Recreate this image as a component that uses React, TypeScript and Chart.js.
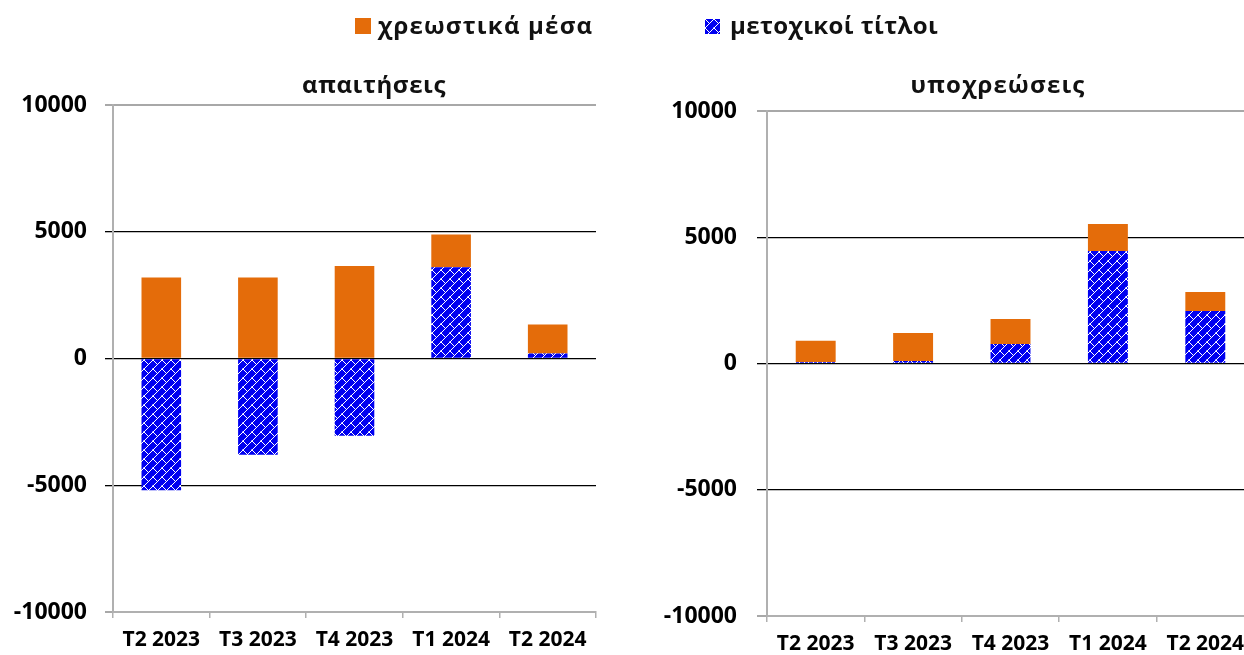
import React, { useEffect, useRef } from "react";
import { Chart, registerables } from "chart.js";

Chart.register(...registerables);

const categories = ["T2 2023", "T3 2023", "T4 2023", "T1 2024", "T2 2024"];
const assetsDebt = [3200, 3200, 3650, 1290, 1140];
const assetsEquity = [-5200, -3800, -3050, 3600, 200];
const liabDebt = [840, 1110, 990, 1060, 750];
const liabEquity = [60, 100, 770, 4460, 2080];
const yTickValues = [-10000, -5000, 0, 5000, 10000];

const legendDebt = "χρεωστικά μέσα";
const legendEquity = "μετοχικοί τίτλοι";
const titleAssets = "απαιτήσεις";
const titleLiab = "υποχρεώσεις";

const ORANGE = "#E46C0A";
const BLUE = "#0000F0";
const FONT = "'Open Sans', 'DejaVu Sans', sans-serif";

function makePatternCanvas(): HTMLCanvasElement {
  const s = 9;
  const c = document.createElement("canvas");
  c.width = s;
  c.height = s;
  const g = c.getContext("2d")!;
  g.fillStyle = BLUE;
  g.fillRect(0, 0, s, s);
  g.strokeStyle = "#ffffff";
  g.lineWidth = 1;
  g.beginPath();
  g.moveTo(-1, s + 1);
  g.lineTo(s + 1, -1);
  g.moveTo(-0.5, -0.5);
  g.lineTo(s / 2, s / 2);
  g.moveTo(s - 0.5, s - 0.5);
  g.lineTo(s + 1, s + 1);
  g.stroke();
  return c;
}

type Cfg = {
  yWidth: number;
  xHeight: number;
  padTop: number;
  padRight: number;
  tickLen: number;
  tickPad: number;
  barPct: number;
};

function buildChart(
  canvas: HTMLCanvasElement,
  debt: number[],
  equity: number[],
  pattern: CanvasPattern | string,
  cfg: Cfg
) {
  return new Chart(canvas, {
    type: "bar",
    data: {
      labels: categories,
      datasets: [
        {
          label: legendEquity,
          data: equity,
          backgroundColor: pattern as any,
          borderWidth: 0,
          barPercentage: cfg.barPct,
          categoryPercentage: 1,
        },
        {
          label: legendDebt,
          data: debt,
          backgroundColor: ORANGE,
          borderWidth: 0,
          barPercentage: cfg.barPct,
          categoryPercentage: 1,
        },
      ],
    },
    options: {
      responsive: false,
      animation: false,
      layout: { padding: { top: cfg.padTop, right: cfg.padRight, left: 0, bottom: 0 } },
      plugins: {
        legend: { display: false },
        title: { display: false },
        tooltip: { enabled: false },
      },
      scales: {
        x: {
          stacked: true,
          afterFit: (s: any) => {
            s.height = cfg.xHeight;
          },
          grid: {
            display: true,
            offset: true,
            drawOnChartArea: false,
            drawTicks: true,
            tickLength: 6,
            color: "#b0b0b0",
            lineWidth: 1.5,
          },
          border: { display: true, color: "#b0b0b0", width: 2 },
          ticks: {
            color: "#000",
            padding: 9,
            maxRotation: 0,
            autoSkip: false,
            font: { family: FONT, size: 21, weight: "bold" },
          },
        },
        y: {
          stacked: true,
          min: -10000,
          max: 10000,
          afterFit: (s: any) => {
            s.width = cfg.yWidth;
          },
          afterBuildTicks: (s: any) => {
            s.ticks = yTickValues.map((v) => ({ value: v }));
          },
          grid: {
            color: (ctx: any) => {
              const v = ctx.tick ? ctx.tick.value : 0;
              return v === 10000 || v === -10000 ? "#a8a8a8" : "#000000";
            },
            lineWidth: (ctx: any) => {
              const v = ctx.tick ? ctx.tick.value : 0;
              return v === 10000 || v === -10000 ? 2 : 1.3;
            },
            tickLength: cfg.tickLen,
          },
          border: { display: true, color: "#b0b0b0", width: 2 },
          ticks: {
            color: "#000",
            padding: cfg.tickPad,
            font: { family: FONT, size: 23, weight: "bold" },
            callback: (v: any) => String(v),
          },
        },
      },
    },
  });
}

export default function App() {
  const leftRef = useRef<HTMLCanvasElement>(null);
  const rightRef = useRef<HTMLCanvasElement>(null);
  const legendBoxRef = useRef<HTMLSpanElement>(null);

  useEffect(() => {
    const pc = makePatternCanvas();
    const tmp = document.createElement("canvas").getContext("2d")!;
    const pattern = tmp.createPattern(pc, "repeat") || BLUE;
    if (legendBoxRef.current) {
      legendBoxRef.current.style.backgroundImage = `url(${pc.toDataURL()})`;
    }
    const c1 = buildChart(leftRef.current!, assetsDebt, assetsEquity, pattern, {
      yWidth: 113,
      xHeight: 43,
      padTop: 105,
      padRight: 24,
      tickLen: 8,
      tickPad: 18,
      barPct: 0.41,
    });
    const c2 = buildChart(rightRef.current!, liabDebt, liabEquity, pattern, {
      yWidth: 127,
      xHeight: 39,
      padTop: 111,
      padRight: 26,
      tickLen: 10,
      tickPad: 20,
      barPct: 0.41,
    });
    return () => {
      c1.destroy();
      c2.destroy();
    };
  }, []);

  const textStyle: React.CSSProperties = {
    position: "absolute",
    fontFamily: FONT,
    fontWeight: 700,
    color: "#111",
    whiteSpace: "nowrap",
    lineHeight: 1,
  };

  return (
    <div
      style={{
        position: "absolute",
        left: 0,
        top: 0,
        width: 1244,
        height: 655,
        overflow: "hidden",
        background: "#fff",
      }}
    >
      <canvas
        ref={leftRef}
        width={620}
        height={655}
        style={{ position: "absolute", left: 0, top: 0, width: 620, height: 655 }}
      />
      <canvas
        ref={rightRef}
        width={640}
        height={655}
        style={{ position: "absolute", left: 640, top: 0, width: 640, height: 655 }}
      />
      {/* legend */}
      <span
        style={{
          position: "absolute",
          left: 355,
          top: 18,
          width: 16,
          height: 16,
          background: ORANGE,
        }}
      />
      <span style={{ ...textStyle, left: 378, top: 13, fontSize: 24, letterSpacing: "1.2px" }}>
        {legendDebt}
      </span>
      <span
        ref={legendBoxRef}
        style={{
          position: "absolute",
          left: 705,
          top: 19,
          width: 15,
          height: 15,
          background: BLUE,
        }}
      />
      <span style={{ ...textStyle, left: 730, top: 13, fontSize: 24, letterSpacing: "0.4px" }}>
        {legendEquity}
      </span>
      {/* titles */}
      <span
        style={{
          ...textStyle,
          left: 374,
          top: 72,
          fontSize: 24,
          letterSpacing: "0.6px",
          transform: "translateX(-50%)",
        }}
      >
        {titleAssets}
      </span>
      <span
        style={{
          ...textStyle,
          left: 998,
          top: 72,
          fontSize: 24,
          letterSpacing: "1.2px",
          transform: "translateX(-50%)",
        }}
      >
        {titleLiab}
      </span>
    </div>
  );
}
